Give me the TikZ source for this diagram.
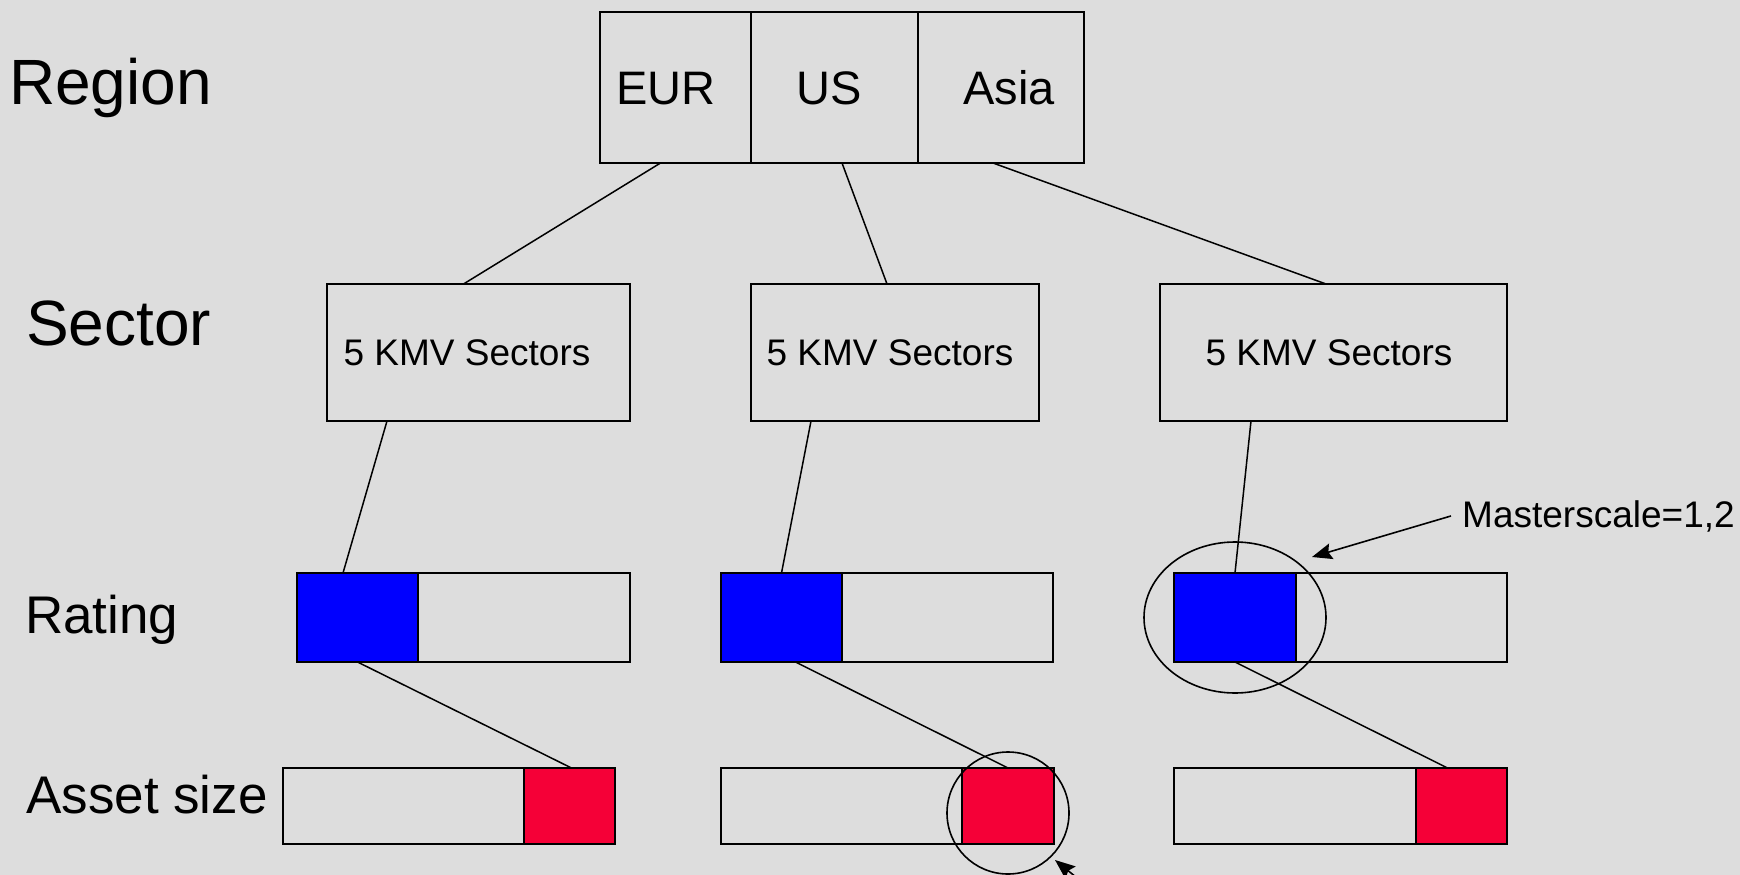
\documentclass[tikz,border=0pt]{standalone}
\usepackage{fontspec}
\setmainfont{Liberation Sans}
\usetikzlibrary{arrows.meta,shapes.geometric}
\definecolor{bg}{RGB}{221,221,221}
\definecolor{barblue}{RGB}{0,0,255}
\definecolor{barred}{RGB}{245,0,55}
\begin{document}
\begin{tikzpicture}[x=1pt,y=-1pt,
  box/.style={draw=black, line width=1.6pt, inner sep=0pt, outer sep=0pt, anchor=north west},
  bluebar/.style={box, fill=barblue},
  redbar/.style={box, fill=barred},
  conn/.style={line width=1.5pt},
  ring/.style={draw=black, line width=1.6pt, ellipse, inner sep=0pt, outer sep=0pt},
  pointer/.style={line width=1.6pt, -{Stealth[length=20pt,width=16pt,inset=3pt]}},
  big/.style={inner sep=0pt, anchor=base west, font=\fontsize{64}{72}\selectfont},
  mid/.style={inner sep=0pt, anchor=base west, font=\fontsize{53}{60}\selectfont},
  cell/.style={inner sep=0pt, anchor=base, font=\fontsize{47}{55}\selectfont},
  small/.style={inner sep=0pt, anchor=base, font=\fontsize{37}{44}\selectfont}]
\fill[bg] (0,0) rectangle (1740,875);
\clip (0,0) rectangle (1740,875);

% row labels
\node[big] (lregion) at (9,104) {Region};
\node[big] (lsector) at (26,345) {Sector};
\node[mid] (lrating) at (25,633) {Rating};
\node[mid] (lasset) at (26,813) {Asset size};

% region cells
\node[box, minimum width=151pt, minimum height=151pt] (eur) at (600,12) {};
\node[box, minimum width=167pt, minimum height=151pt] (us) at (751,12) {};
\node[box, minimum width=166pt, minimum height=151pt] (asia) at (918,12) {};
\node[cell] (teur) at (666,104) {EUR};
\node[cell] (tus) at (829,104) {US};
\node[cell] (tasia) at (1009,104) {Asia};

% sector boxes
\node[box, minimum width=303pt, minimum height=137pt] (s1) at (327,284) {};
\node[box, minimum width=288pt, minimum height=137pt] (s2) at (751,284) {};
\node[box, minimum width=347pt, minimum height=137pt] (s3) at (1160,284) {};
\node[small] (ts1) at (467,365) {5 KMV Sectors};
\node[small] (ts2) at (890,365) {5 KMV Sectors};
\node[small] (ts3) at (1329,365) {5 KMV Sectors};

% rating bars
\node[box, minimum width=333pt, minimum height=89pt] (r1) at (297,573) {};
\node[bluebar, minimum width=121pt, minimum height=89pt] (b1) at (297,573) {};
\node[box, minimum width=332pt, minimum height=89pt] (r2) at (721,573) {};
\node[bluebar, minimum width=121pt, minimum height=89pt] (b2) at (721,573) {};
\node[box, minimum width=333pt, minimum height=89pt] (r3) at (1174,573) {};
\node[bluebar, minimum width=122pt, minimum height=89pt] (b3) at (1174,573) {};

% asset size bars
\node[box, minimum width=332pt, minimum height=76pt] (a1) at (283,768) {};
\node[redbar, minimum width=91pt, minimum height=76pt] (c1) at (524,768) {};
\node[box, minimum width=333pt, minimum height=76pt] (a2) at (721,768) {};
\node[redbar, minimum width=92pt, minimum height=76pt] (c2) at (962,768) {};
\node[box, minimum width=333pt, minimum height=76pt] (a3) at (1174,768) {};
\node[redbar, minimum width=91pt, minimum height=76pt] (c3) at (1416,768) {};

% connectors region -> sector
\draw[conn] ([xshift=-15pt]eur.south) -- ([xshift=-15pt]s1.north);
\draw[conn] ([xshift=7.5pt]us.south) -- ([xshift=-8pt]s2.north);
\draw[conn] ([xshift=-8pt]asia.south) -- ([xshift=-7.5pt]s3.north);
% sector -> rating
\draw[conn] ([xshift=-91.5pt]s1.south) -- ([xshift=-14.5pt]b1.north);
\draw[conn] ([xshift=-84pt]s2.south) -- (b2.north);
\draw[conn] ([xshift=-82.5pt]s3.south) -- (b3.north);
% rating -> asset size
\draw[conn] (b1.south) -- ([xshift=2pt]c1.north);
\draw[conn] ([xshift=14pt]b2.south) -- (c2.north);
\draw[conn] (b3.south) -- ([xshift=-14pt]c3.north);

% highlight rings
\node[ring, minimum width=182pt, minimum height=151pt] (e1) at (b3.center) {};
\node[ring, minimum width=122pt, minimum height=122pt] (e2) at ([yshift=-7pt]c2.center) {};

% annotation
\node[small, anchor=base west] (ms) at (1462,527) {Masterscale=1,2};
\coordinate (tip1) at (1312,557);
\coordinate (tail2) at (1082,882);
\coordinate (tip2) at (1055,860);
\draw[pointer] ([xshift=-11pt]ms.west) -- (tip1);
\draw[pointer] (tail2) -- (tip2);
\end{tikzpicture}
\end{document}
